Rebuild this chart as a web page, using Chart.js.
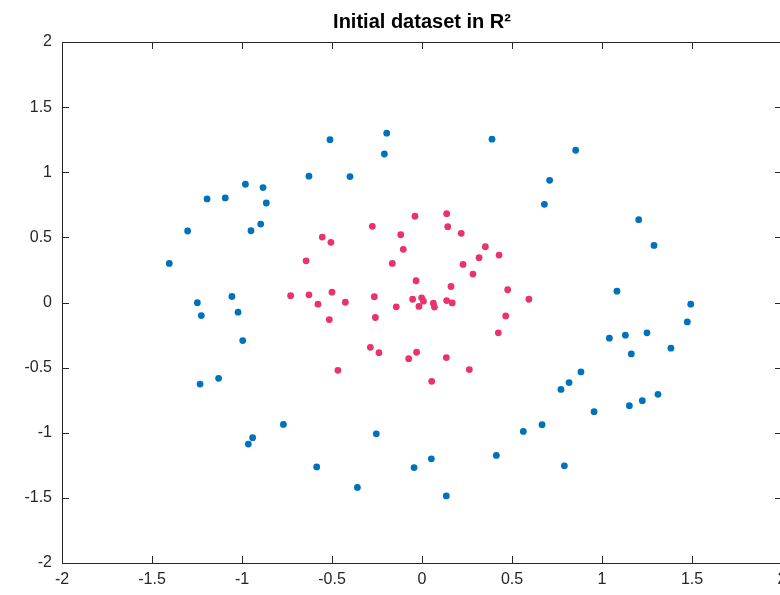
<!DOCTYPE html>
<html>
<head>
<meta charset="utf-8">
<title>Initial dataset in R2</title>
<script src="https://cdn.jsdelivr.net/npm/chart.js@4/dist/chart.umd.min.js"></script>
<style>
    html, body { margin: 0; padding: 0; background: #fff; }
    #wrap { width: 780px; height: 595px; overflow: hidden; }
    canvas { display: block; }
</style>
</head>
<body>
<div id="wrap">
    <canvas id="scatterChart" width="844" height="595"></canvas>
</div>
<script>
// Points: outer ring (blue) and inner cluster (red)
const outerX = [-0.196, -0.511, -0.209, -0.628, -0.40, -0.981, -0.883, -1.194, -1.093, -0.865,
    -1.302, -0.896, -0.95, -1.404, -1.056, -1.248, -1.022, -1.226, -0.996, -1.233,
    -1.13, -0.77, -0.941, -0.965, -0.585, -0.359, -0.254, -0.044, 0.052, 0.135,
    0.413, 0.563, 0.667, 0.791, 0.772, 0.817, 0.883, 0.956, 1.041, 1.13,
    1.163, 1.25, 1.383, 1.152, 1.224, 1.311, 1.083, 1.493, 1.474, 0.389,
    0.854, 0.709, 0.68, 1.204, 1.289];
const outerY = [1.30, 1.25, 1.14, 0.97, 0.967, 0.908, 0.882, 0.795, 0.803, 0.764,
    0.549, 0.602, 0.551, 0.30, 0.046, -0.002, -0.074, -0.10, -0.292, -0.626,
    -0.582, -0.936, -1.038, -1.087, -1.262, -1.42, -1.008, -1.267, -1.20, -1.485,
    -1.174, -0.99, -0.938, -1.254, -0.667, -0.615, -0.533, -0.838, -0.274, -0.251,
    -0.395, -0.233, -0.351, -0.792, -0.754, -0.705, 0.087, -0.013, -0.149, 1.254,
    1.169, 0.938, 0.754, 0.636, 0.438];

const innerX = [-0.276, -0.554, -0.506, -0.644, -0.118, -0.104, -0.165, -0.73, -0.628, -0.50,
    -0.265, -0.039, 0.137, 0.143, 0.218, 0.352, 0.428, 0.317, 0.228, 0.283,
    -0.033, 0.161, 0.476, 0.594, -0.578, -0.426, -0.515, -0.259, -0.143, -0.287,
    -0.239, -0.074, -0.467, -0.052, -0.002, 0.008, -0.017, 0.063, 0.069, 0.137,
    0.168, 0.465, 0.424, -0.03, 0.135, 0.263, 0.054];
const innerY = [0.585, 0.502, 0.462, 0.32, 0.52, 0.408, 0.30, 0.052, 0.059, 0.079,
    0.044, 0.662, 0.682, 0.582, 0.531, 0.428, 0.364, 0.344, 0.292, 0.218,
    0.167, 0.123, 0.098, 0.025, -0.013, 0.002, -0.131, -0.115, -0.033, -0.344,
    -0.385, -0.431, -0.521, 0.025, 0.036, 0.01, -0.03, -0.005, -0.035, 0.015,
    -0.003, -0.103, -0.233, -0.382, -0.423, -0.515, -0.605];

// Tick labels
const xTicks = [-2, -1.5, -1, -0.5, 0, 0.5, 1, 1.5, 2];
const yTicks = [-2, -1.5, -1, -0.5, 0, 0.5, 1, 1.5, 2];

const toPoints = (xs, ys) => xs.map((x, i) => ({ x: x, y: ys[i] }));

// MATLAB-like box with inward ticks
const boxAxes = {
    id: "boxAxes",
    afterDraw(chart) {
        const { ctx, chartArea: a, scales: { x, y } } = chart;
        const len = 7;
        ctx.save();
        ctx.strokeStyle = "#262626";
        ctx.lineWidth = 1;
        ctx.beginPath();
        ctx.rect(Math.round(a.left) + 0.5, Math.round(a.top) + 0.5,
            Math.round(a.right - a.left), Math.round(a.bottom - a.top));
        x.ticks.forEach(t => {
            const px = Math.round(x.getPixelForValue(t.value)) + 0.5;
            ctx.moveTo(px, a.bottom); ctx.lineTo(px, a.bottom - len);
            ctx.moveTo(px, a.top); ctx.lineTo(px, a.top + len);
        });
        y.ticks.forEach(t => {
            const py = Math.round(y.getPixelForValue(t.value)) + 0.5;
            ctx.moveTo(a.left, py); ctx.lineTo(a.left + len, py);
            ctx.moveTo(a.right, py); ctx.lineTo(a.right - len, py);
        });
        ctx.stroke();
        ctx.restore();
    }
};

const tickFont = { family: "'Liberation Sans', Arial, sans-serif", size: 16 };

const ctx = document.getElementById("scatterChart").getContext("2d");
const scatterChart = new Chart(ctx, {
    type: "scatter",
    data: {
        datasets: [{
            label: "outer",
            data: toPoints(outerX, outerY),
            backgroundColor: "#0072BD",
            borderColor: "#0072BD",
            borderWidth: 0,
            pointRadius: 3.4
        }, {
            label: "inner",
            data: toPoints(innerX, innerY),
            backgroundColor: "#E8336B",
            borderColor: "#E8336B",
            borderWidth: 0,
            pointRadius: 3.4
        }]
    },
    options: {
        responsive: false,
        animation: false,
        devicePixelRatio: 1,
        layout: { padding: 0 },
        plugins: {
            legend: { display: false },
            tooltip: { enabled: false },
            title: {
                display: true,
                text: "Initial dataset in R\u00B2",
                color: "#000",
                font: { family: "'Liberation Sans', Arial, sans-serif", size: 20, weight: "bold" },
                padding: { top: 10, bottom: 8 }
            }
        },
        scales: {
            x: {
                type: "linear",
                min: -2,
                max: 2,
                afterBuildTicks: (scale) => { scale.ticks = xTicks.map(v => ({ value: v })); },
                afterFit: (scale) => { scale.height = 32; },
                grid: { display: false, drawTicks: false },
                border: { display: false },
                ticks: {
                    color: "#262626",
                    font: tickFont,
                    padding: 7,
                    maxRotation: 0,
                    callback: (v) => String(v)
                }
            },
            y: {
                type: "linear",
                min: -2,
                max: 2,
                afterBuildTicks: (scale) => { scale.ticks = yTicks.map(v => ({ value: v })); },
                afterFit: (scale) => { scale.width = 62; },
                grid: { display: false, drawTicks: false },
                border: { display: false },
                ticks: {
                    color: "#262626",
                    font: tickFont,
                    padding: 10,
                    callback: (v) => String(v)
                }
            },
            // empty right-hand strip so the title stays centred over the plot
            yRight: {
                type: "linear",
                position: "right",
                min: -2,
                max: 2,
                afterFit: (scale) => { scale.width = 62; },
                grid: { display: false, drawTicks: false },
                border: { display: false },
                ticks: { display: false }
            }
        }
    },
    plugins: [boxAxes]
});
</script>
</body>
</html>
